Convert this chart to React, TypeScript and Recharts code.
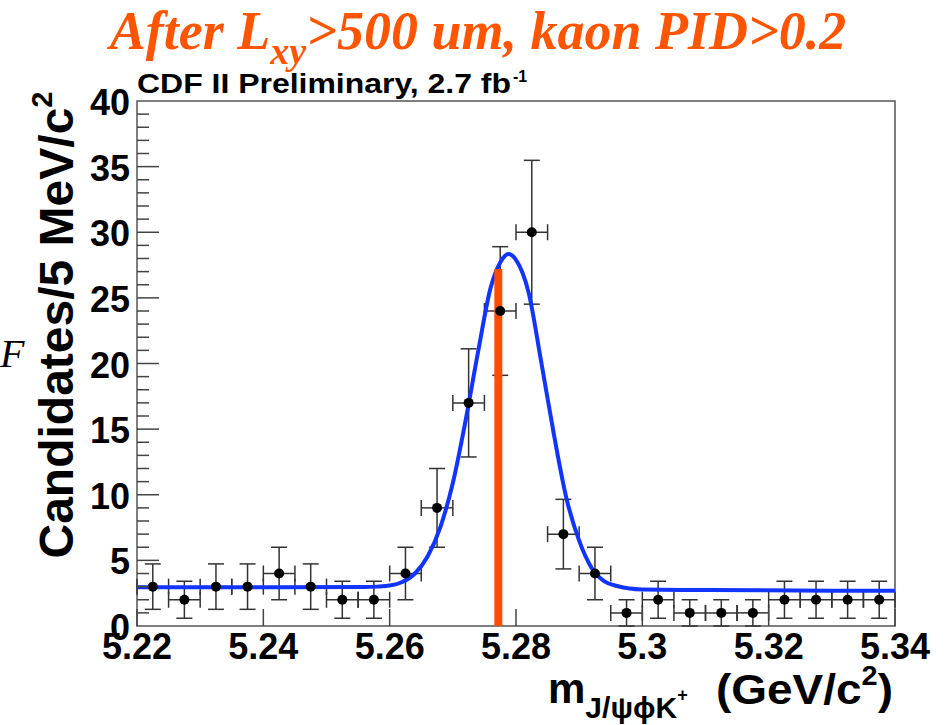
import React from 'react';
import {
  ComposedChart,
  XAxis,
  YAxis,
  Scatter,
  ErrorBar,
  Line,
  ReferenceLine,
  ReferenceArea,
} from 'recharts';

// ---- Data ----
const binCenters = [
  5.2225, 5.2275, 5.2325, 5.2375, 5.2425, 5.2475, 5.2525, 5.2575, 5.2625, 5.2675, 5.2725, 5.2775,
  5.2825, 5.2875, 5.2925, 5.2975, 5.3025, 5.3075, 5.3125, 5.3175, 5.3225, 5.3275, 5.3325, 5.3375,
];
const counts = [3, 2, 3, 3, 4, 3, 2, 2, 4, 9, 17, 24, 30, 7, 4, 1, 2, 1, 1, 1, 2, 2, 2, 2];
const countErrors = [
  1.73, 1.41, 1.73, 1.73, 2.0, 1.73, 1.41, 1.41, 2.0, 3.0, 4.12, 4.9, 5.48, 2.65, 2.0, 1.0, 1.41,
  1.0, 1.0, 1.0, 1.41, 1.41, 1.41, 1.41,
];
const binHalfWidth = 0.0025;

const fitMass = [
  5.22, 5.24, 5.256, 5.258, 5.26, 5.262, 5.264, 5.266, 5.268, 5.27, 5.272, 5.274, 5.276, 5.2775,
  5.2788, 5.28, 5.282, 5.284, 5.286, 5.288, 5.29, 5.292, 5.294, 5.296, 5.298, 5.3, 5.31, 5.34,
];
const fitValues = [
  2.95, 2.95, 2.97, 3.0, 3.08, 3.35, 4.0, 5.3, 7.5, 10.9, 15.6, 20.9, 25.8, 27.7, 28.35, 27.9, 25.4,
  20.1, 14.6, 9.7, 6.5, 4.4, 3.4, 3.05, 2.85, 2.78, 2.74, 2.68,
];

const markerMass = 5.2772;
const markerTop = 27.2;

const xTicks = [5.22, 5.24, 5.26, 5.28, 5.3, 5.32, 5.34];
const yTicks = [
  0, 1, 2, 3, 4, 5, 6, 7, 8, 9, 10, 11, 12, 13, 14, 15, 16, 17, 18, 19, 20, 21, 22, 23, 24, 25, 26,
  27, 28, 29, 30, 31, 32, 33, 34, 35, 36, 37, 38, 39, 40,
];

const points = binCenters.map((m, i) => ({ m, n: counts[i], ey: countErrors[i], ex: binHalfWidth }));
const fit = fitMass.map((m, i) => ({ m, f: fitValues[i] }));

const SANS = "'Liberation Sans', Arial, Helvetica, sans-serif";
const SERIF = "'Liberation Serif', 'Times New Roman', serif";
const TICK_GAP = 7;

const YTick = (props: any) => {
  const { x, y, payload } = props;
  const v = payload.value;
  const major = v % 5 === 0;
  const ax = x + TICK_GAP;
  return (
    <g>
      {v !== 0 && v !== 40 ? (
        <line x1={ax} x2={ax + (major ? 22 : 12)} y1={y} y2={y} stroke="#444" strokeWidth={1.5} />
      ) : null}
      {major ? (
        <text x={x} y={y + 14} textAnchor="end" fontSize={36} fontWeight="bold" fontFamily={SANS} fill="#000">
          {v}
        </text>
      ) : null}
    </g>
  );
};

const XTick = (props: any) => {
  const { x, y, payload } = props;
  const v = payload.value;
  const ay = y - TICK_GAP;
  return (
    <g>
      <line x1={x} x2={x} y1={ay} y2={ay - 17} stroke="#444" strokeWidth={1.5} />
      <text x={x} y={y + 26} textAnchor="middle" fontSize={36} fontWeight="bold" fontFamily={SANS} fill="#000">
        {String(v)}
      </text>
    </g>
  );
};

const Dot = (props: any) => {
  const { cx, cy } = props;
  if (cx == null || cy == null) return null;
  return <circle cx={cx} cy={cy} r={5} fill="#000" />;
};

export default function App() {
  return (
    <div style={{ position: 'absolute', left: 0, top: 0, width: 949, height: 725, background: '#fff' }}>
      <ComposedChart width={949} height={725} margin={{ top: 101, right: 54, bottom: 39, left: 77 }}>
        <XAxis
          dataKey="m"
          type="number"
          domain={[5.22, 5.34]}
          ticks={xTicks}
          interval={0}
          allowDataOverflow
          axisLine={false}
          tickLine={false}
          tickSize={0}
          tickMargin={TICK_GAP}
          height={60}
          tick={<XTick />}
        />
        <YAxis
          type="number"
          domain={[0, 40]}
          ticks={yTicks}
          interval={0}
          allowDataOverflow
          axisLine={false}
          tickLine={false}
          tickSize={0}
          tickMargin={TICK_GAP}
          width={60}
          tick={<YTick />}
        />
        <ReferenceArea
          x1={5.22}
          x2={5.34}
          y1={0}
          y2={40}
          fill="none"
          fillOpacity={0}
          stroke="#555"
          strokeWidth={1.5}
          ifOverflow="visible"
        />
        <Scatter data={points} dataKey="n" isAnimationActive={false} shape={<Dot />}>
          <ErrorBar dataKey="ey" direction="y" width={8} stroke="#333" strokeWidth={1.5} />
          <ErrorBar dataKey="ex" direction="x" width={8} stroke="#333" strokeWidth={1.5} />
        </Scatter>
        <Line
          data={fit}
          dataKey="f"
          type="monotone"
          stroke="#1234ff"
          strokeWidth={4}
          dot={false}
          activeDot={false}
          isAnimationActive={false}
        />
        <ReferenceLine
          segment={[
            { x: markerMass, y: 0 },
            { x: markerMass, y: markerTop },
          ]}
          stroke="#ff4d00"
          strokeWidth={8}
        />
      </ComposedChart>
      <svg
        width={949}
        height={725}
        style={{ position: 'absolute', left: 0, top: 0, pointerEvents: 'none' }}
      >
        <text
          x={478}
          y={49}
          textAnchor="middle"
          fill="#ff5500"
          fontFamily={SERIF}
          fontStyle="italic"
          fontWeight="bold"
          fontSize={54}
        >
          After L<tspan fontSize={38} dy={15}>xy</tspan>
          <tspan dy={-15}>&gt;500 um, kaon PID&gt;0.2</tspan>
        </text>
        <text
          x={137}
          y={93}
          fontSize={27}
          fontWeight="bold"
          fontFamily={SANS}
          fill="#000"
          textLength={374}
          lengthAdjust="spacingAndGlyphs"
        >
          CDF II Preliminary, 2.7 fb
        </text>
        <text x={513} y={82} fontSize={16} fontWeight="bold" fontFamily={SANS} fill="#000">
          -1
        </text>
        <text
          transform="translate(73,325) rotate(-90)"
          textAnchor="middle"
          fontSize={48}
          fontWeight="bold"
          fontFamily={SANS}
          fill="#000"
        >
          Candidates/5 MeV/c<tspan dy={-21} fontSize={29}>2</tspan>
        </text>
        <text x={548} y={703} fontSize={42} fontWeight="bold" fontFamily={SANS} fill="#000">
          m<tspan fontSize={30} dy={15}>J/ψϕK</tspan>
          <tspan fontSize={18} dy={-17}>+</tspan>
        </text>
        <text
          x={716}
          y={704}
          fontSize={43}
          fontWeight="bold"
          fontFamily={SANS}
          fill="#000"
          textLength={177}
          lengthAdjust="spacingAndGlyphs"
        >
          (GeV/c<tspan fontSize={27} dy={-19}>2</tspan>
          <tspan dy={19}>)</tspan>
        </text>
        <text x={0} y={367} fontSize={40} fontStyle="italic" fontFamily={SERIF} fill="#000">
          F
        </text>
      </svg>
    </div>
  );
}
